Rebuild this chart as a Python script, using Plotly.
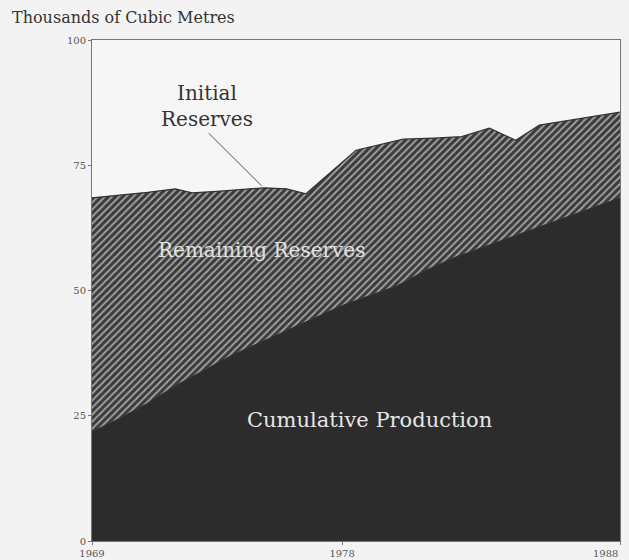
import plotly.graph_objects as go

# Cumulative production (thousands of cubic metres)
prod_years = [1969, 1970, 1971, 1972, 1973, 1974, 1975, 1976, 1977, 1978,
              1979, 1980, 1981, 1982, 1983, 1984, 1985, 1986, 1987, 1988]
production = [21.8, 24.5, 27.5, 31.0, 34.0, 37.0, 39.5, 42.0, 44.5, 47.0,
              49.0, 51.0, 54.0, 56.5, 58.5, 60.5, 62.5, 64.5, 66.5, 68.5]

# Initial reserves (thousands of cubic metres), read at the curve's turning points
init_years = [1969, 1970, 1971, 1972.0, 1972.6, 1973.5, 1975.2, 1976.0, 1976.7,
              1978.5, 1980.2, 1981.3, 1982.3, 1983.3, 1984.25, 1985.1, 1986.5, 1988]
initial = [68.5, 69.0, 69.6, 70.3, 69.5, 69.8, 70.5, 70.3, 69.3,
           78.0, 80.2, 80.4, 80.7, 82.4, 80.0, 83.0, 84.2, 85.6]

x_ticks = [1969, 1978, 1988]
x_tick_labels = ["1969", "1978", "1988"]
y_ticks = [0, 25, 50, 75, 100]

SERIF = "DejaVu Serif"

fig = go.Figure()
fig.add_trace(go.Scatter(
    x=prod_years, y=production, mode="lines", fill="tozeroy",
    fillcolor="#2c2c2c", line=dict(color="#2c2c2c", width=1),
    hoverinfo="skip", showlegend=False))
fig.add_trace(go.Scatter(
    x=init_years, y=initial, mode="lines", fill="tonexty",
    fillcolor="#3a3a3a",
    fillpattern=dict(shape="/", bgcolor="#3a3a3a", fgcolor="#a0a0a0",
                     size=5, solidity=0.4, fillmode="replace"),
    line=dict(color="#333333", width=1.2),
    hoverinfo="skip", showlegend=False))

fig.add_annotation(x=1973.15, y=86.8, text="Initial<br>Reserves", showarrow=False,
                   font=dict(family=SERIF, size=20, color="#333333"),
                   xanchor="center", yanchor="middle")
fig.add_shape(type="line", x0=1973.2, y0=81.4, x1=1975.1, y1=70.9,
              line=dict(color="#555555", width=1))
fig.add_annotation(x=1975.1, y=58.1, text="Remaining Reserves", showarrow=False,
                   font=dict(family=SERIF, size=20, color="#e2e2e2"),
                   xanchor="center", yanchor="middle")
fig.add_annotation(x=1978.97, y=24.2, text="Cumulative Production", showarrow=False,
                   font=dict(family=SERIF, size=21, color="#e6e6e6"),
                   xanchor="center", yanchor="middle")
fig.add_annotation(xref="paper", yref="paper", x=-0.155, y=1.044,
                   text="Thousands of Cubic Metres", showarrow=False,
                   font=dict(family=SERIF, size=16, color="#333333"),
                   xanchor="left", yanchor="middle")

# last tick label is padded on its right so it stays inside the window
shown_labels = x_tick_labels[:-1] + [x_tick_labels[-1] + "&nbsp;" * 9]

fig.update_layout(
    width=621, height=552,
    margin=dict(l=84, r=9, t=32, b=19),
    paper_bgcolor="#f3f3f3", plot_bgcolor="#f6f6f6",
    font=dict(family=SERIF, size=10, color="#555555"),
)
fig.update_xaxes(range=[1969, 1988], tickvals=x_ticks, ticktext=shown_labels,
                 automargin=False, ticklabeloverflow="allow",
                 showgrid=False, zeroline=False, showline=True, linecolor="#777777",
                 linewidth=1, mirror=True, ticks="outside", ticklen=3,
                 tickcolor="#777777", tickfont=dict(family=SERIF, size=10, color="#555555"))
fig.update_yaxes(range=[0, 100], tickvals=y_ticks, automargin=False,
                 showgrid=False, zeroline=False,
                 showline=True, linecolor="#777777", linewidth=1, mirror=True,
                 ticks="outside", ticklen=3, tickcolor="#777777",
                 tickfont=dict(family=SERIF, size=10, color="#555555"))

fig.write_html("out.html", post_script="document.body.style.background='#f3f3f3';")
